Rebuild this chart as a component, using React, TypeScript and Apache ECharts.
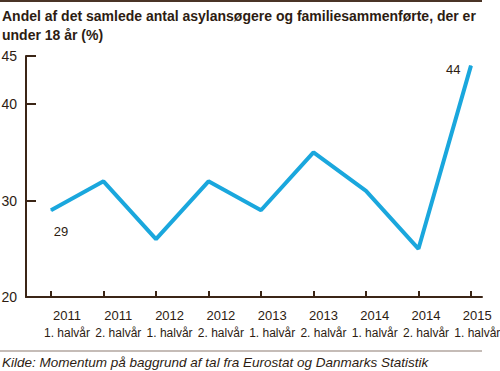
import React, { useEffect, useRef } from "react";
import * as echarts from "echarts";

const years = ["2011", "2011", "2012", "2012", "2013", "2013", "2014", "2014", "2015"];
const halves = ["1. halvår", "2. halvår", "1. halvår", "2. halvår", "1. halvår", "2. halvår", "1. halvår", "2. halvår", "1. halvår"];
const values = [29, 32, 26, 32, 29, 35, 31, 25, 44];
const yTicks = [20, 30, 40, 45];
const titleLines = [
  "Andel af det samlede antal asylansøgere og familiesammenførte, der er",
  "under 18 år (%)",
];
const sourceText = "Kilde: Momentum på baggrund af tal fra Eurostat og Danmarks Statistik";

const TEXT = "#2d1c12";
const AXIS = "#3b2516";
const BLUE = "#1aa7dd";
const FONT = "'Liberation Sans', Arial, sans-serif";

const LABEL_START = 0.305;
const LABEL_STEP = 0.977;

export default function App() {
  const ref = useRef<HTMLDivElement>(null);
  useEffect(() => {
    document.body.style.margin = "0";
    if (!ref.current) return;
    const chart = echarts.init(ref.current, null, { renderer: "svg" });
    const idx = values.map((_, i) => i);
    const labelPos = idx.map((i) => LABEL_START + LABEL_STEP * i);
    const data = values.map((v, i) => {
      const item: any = { value: [i, v] };
      if (i === 0) {
        item.label = { show: true, position: "bottom", distance: 14, offset: [10, 0] };
      } else if (i === values.length - 1) {
        item.label = { show: true, position: "left", distance: 10, offset: [0, 4] };
      }
      return item;
    });
    chart.setOption({
      animation: false,
      grid: { left: 26, right: 18, top: 56, bottom: 74, containLabel: false, outerBoundsMode: "none" },
      xAxis: {
        type: "value",
        min: -0.476,
        max: 8.21,
        splitLine: { show: false },
        axisLine: { show: true, onZero: false, lineStyle: { color: AXIS, width: 2 } },
        axisTick: { show: true, inside: true, length: 6, lineStyle: { color: AXIS, width: 2 }, customValues: idx },
        axisLabel: {
          customValues: labelPos,
          margin: 10,
          fontFamily: FONT,
          color: TEXT,
          lineHeight: 17,
          formatter: (v: number) => {
            const i = Math.round((v - LABEL_START) / LABEL_STEP);
            return "{y|" + years[i] + "}\n{h|" + halves[i] + "}";
          },
          rich: {
            y: { fontFamily: FONT, fontSize: 13, color: TEXT, lineHeight: 17 },
            h: { fontFamily: FONT, fontSize: 12, color: TEXT, lineHeight: 17 },
          },
        },
      },
      yAxis: {
        type: "value",
        min: 20,
        max: 45,
        splitLine: { show: false },
        axisLine: { show: true, onZero: false, lineStyle: { color: AXIS, width: 2 } },
        axisTick: { show: true, inside: true, length: 10, lineStyle: { color: AXIS, width: 2 }, customValues: yTicks },
        axisLabel: { customValues: yTicks, margin: 9, fontFamily: FONT, fontSize: 14, color: TEXT },
      },
      series: [
        {
          type: "line",
          data,
          symbol: "circle",
          symbolSize: 1,
          showSymbol: true,
          itemStyle: { color: BLUE },
          lineStyle: { color: BLUE, width: 4 },
          label: { show: false, color: TEXT, fontFamily: FONT, fontSize: 13, formatter: (p: any) => String(p.value[1]) },
        },
      ],
      graphic: [
        { type: "rect", shape: { x: 0, y: 0, width: 482, height: 2 }, style: { fill: "#4a3426" } },
        {
          type: "text",
          x: 2,
          y: 16,
          style: { text: titleLines[0], font: `bold 14px ${FONT}`, fill: TEXT, textVerticalAlign: "middle" },
        },
        {
          type: "text",
          x: 2,
          y: 35,
          style: { text: titleLines[1], font: `bold 14px ${FONT}`, fill: TEXT, textVerticalAlign: "middle" },
        },
        { type: "rect", shape: { x: 0, y: 350.5, width: 482, height: 1 }, style: { fill: "#8c7b70" } },
        {
          type: "text",
          x: 2,
          y: 362,
          style: { text: sourceText, font: `italic 13.5px ${FONT}`, fill: TEXT, textVerticalAlign: "middle" },
        },
      ],
    });
    return () => chart.dispose();
  }, []);
  return <div ref={ref} style={{ width: 500, height: 371 }} />;
}
